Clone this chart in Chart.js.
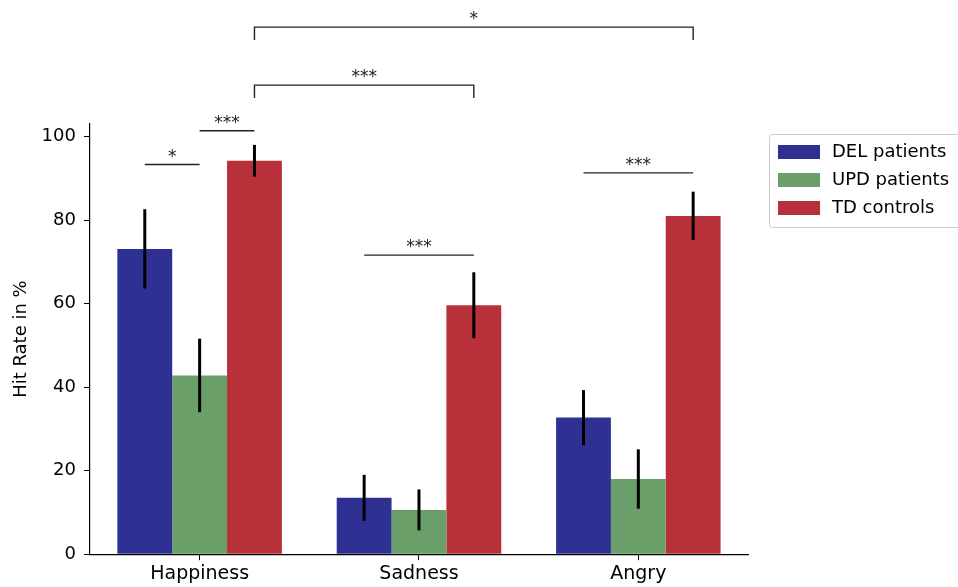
<!DOCTYPE html>
<html>
<head>
<meta charset="utf-8">
<script src="https://cdn.jsdelivr.net/npm/chart.js@4/dist/chart.umd.min.js"></script>
<style>
  html, body { margin: 0; padding: 0; background: #fff; }
  #wrap { width: 958px; height: 587px; position: relative; }
</style>
</head>
<body>
<div id="wrap"><canvas id="chart"></canvas></div>
<script>
const categories = ['Happiness', 'Sadness', 'Angry'];
const seriesNames = ['DEL patients', 'UPD patients', 'TD controls'];
const delValues = [73.1, 13.5, 32.7];
const updValues = [42.8, 10.6, 18.0];
const tdValues = [94.2, 59.6, 81.0];
const delErrors = [9.5, 5.5, 6.6];
const updErrors = [8.8, 4.9, 7.1];
const tdErrors = [3.8, 7.9, 5.8];
const yTicks = [0, 20, 40, 60, 80, 100];
const colors = ['#2e3192', '#6a9f6a', '#b7303a'];

// significance markers: [category, bar] -> [category, bar], height in %, label, with legs?
const sigFrom = [[0, 0], [0, 1], [0, 2], [0, 2], [1, 0], [2, 0]];
const sigTo = [[0, 1], [0, 2], [1, 2], [2, 2], [1, 2], [2, 2]];
const sigLevel = [93.3, 101.4, 112.3, 126.2, 71.6, 91.3];
const sigLabels = ['*', '***', '***', '*', '***', '***'];
const sigLegs = [false, false, true, true, false, false];

const allValues = [delValues, updValues, tdValues];
const allErrors = [delErrors, updErrors, tdErrors];
const FONT = "'DejaVu Sans', sans-serif";

// vertical error bars, no caps
const errorBars = {
  id: 'errorBars',
  afterDatasetsDraw(chart) {
    const y = chart.scales.y;
    const ctx = chart.ctx;
    ctx.save();
    ctx.strokeStyle = '#000';
    ctx.lineWidth = 3;
    chart.data.datasets.forEach((ds, di) => {
      const meta = chart.getDatasetMeta(di);
      meta.data.forEach((bar, i) => {
        const v = allValues[di][i], e = allErrors[di][i];
        ctx.beginPath();
        ctx.moveTo(bar.x, y.getPixelForValue(v + e));
        ctx.lineTo(bar.x, y.getPixelForValue(v - e));
        ctx.stroke();
      });
    });
    ctx.restore();
  }
};

// brackets with stars above the plot
const sigMarks = {
  id: 'sigMarks',
  afterDraw(chart) {
    const x = chart.scales.x, y = chart.scales.y;
    const ctx = chart.ctx;
    const step = x.getPixelForValue(1) - x.getPixelForValue(0);
    const px = (c, b) => x.getPixelForValue(c) + (b - 1) * 0.25 * step;
    ctx.save();
    ctx.strokeStyle = '#222';
    ctx.fillStyle = '#222';
    ctx.lineWidth = 1.4;
    ctx.font = '17px ' + FONT;
    ctx.textAlign = 'center';
    ctx.textBaseline = 'alphabetic';
    sigLevel.forEach((lvl, k) => {
      const x1 = px(sigFrom[k][0], sigFrom[k][1]);
      const x2 = px(sigTo[k][0], sigTo[k][1]);
      const yy = y.getPixelForValue(lvl);
      const drop = y.getPixelForValue(lvl - 3.1);
      ctx.beginPath();
      if (sigLegs[k]) {
        ctx.moveTo(x1, drop); ctx.lineTo(x1, yy); ctx.lineTo(x2, yy); ctx.lineTo(x2, drop);
      } else {
        ctx.moveTo(x1, yy); ctx.lineTo(x2, yy);
      }
      ctx.stroke();
      ctx.fillText(sigLabels[k], (x1 + x2) / 2, yy - 3);
    });
    ctx.restore();
  }
};

// boxed legend at upper right, running off the edge like the source
const boxLegend = {
  id: 'boxLegend',
  afterDraw(chart) {
    const ctx = chart.ctx;
    ctx.save();
    ctx.beginPath();
    ctx.roundRect(769.5, 134.5, 200, 93, 3);
    ctx.fillStyle = 'rgba(255,255,255,0.8)';
    ctx.fill();
    ctx.strokeStyle = '#cccccc';
    ctx.lineWidth = 1;
    ctx.stroke();
    ctx.font = '18px ' + FONT;
    ctx.textBaseline = 'middle';
    ctx.textAlign = 'left';
    chart.data.datasets.forEach((ds, i) => {
      const cy = 152 + i * 28;
      ctx.fillStyle = ds.backgroundColor;
      ctx.fillRect(778, cy - 7, 42, 14);
      ctx.fillStyle = '#000';
      ctx.fillText(ds.label, 832, cy);
    });
    ctx.restore();
  }
};

new Chart(document.getElementById('chart'), {
  type: 'bar',
  data: {
    labels: categories,
    datasets: seriesNames.map((name, i) => ({
      label: name,
      data: allValues[i],
      backgroundColor: colors[i],
      borderWidth: 0,
      categoryPercentage: 0.75,
      barPercentage: 1.0
    }))
  },
  options: {
    responsive: true,
    maintainAspectRatio: false,
    animation: false,
    devicePixelRatio: 1,
    layout: { padding: { top: 124, right: 210, bottom: 0, left: 11 } },
    plugins: {
      legend: { display: false },
      tooltip: { enabled: false }
    },
    scales: {
      x: {
        offset: true,
        grid: { offset: false, drawOnChartArea: false, drawTicks: true, tickLength: 6, color: '#000' },
        border: { display: true, color: '#000', width: 1.2 },
        ticks: { color: '#000', font: { family: FONT, size: 19 }, padding: 2 }
      },
      y: {
        min: 0,
        max: 103,
        afterBuildTicks: axis => { axis.ticks = yTicks.map(v => ({ value: v })); },
        grid: { drawOnChartArea: false, drawTicks: true, tickLength: 6, color: '#000' },
        border: { display: true, color: '#000', width: 1.2 },
        ticks: { color: '#000', font: { family: FONT, size: 18 }, padding: 8 },
        title: { display: true, text: 'Hit Rate in %', color: '#000', font: { family: FONT, size: 18 }, padding: { top: 0, bottom: 1 } }
      }
    }
  },
  plugins: [errorBars, sigMarks, boxLegend]
});
</script>
</body>
</html>
